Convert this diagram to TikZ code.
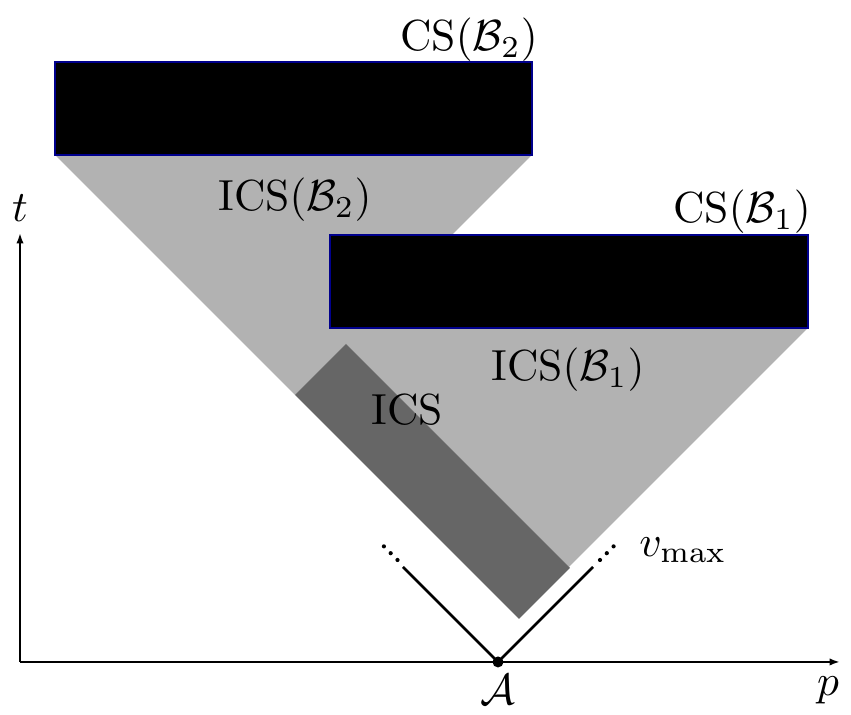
\documentclass[tikz,border=0pt]{standalone}
\usepackage{amsmath,amssymb}
\usetikzlibrary{arrows.meta}
\tikzset{
  axis/.style={line width=0.6pt, -{Latex[length=2.4pt,width=1.7pt]}},
  pastcone/.style={fill=black!30},
  overlap/.style={fill=black!60},
  slab/.style={fill=black, draw=blue!55!black, line width=0.3pt},
  lightline/.style={line width=0.6pt},
}
\begin{document}
\begin{tikzpicture}[x=0.23pt, y=0.23pt]
	\useasboundingbox (0,0) rectangle (851,715);
	% past cones of the two slabs and their overlap
	\fill[pastcone] (55,560) -- (532,560) -- (452,480) -- (346,371) -- (295,320) -- cycle;
	\fill[pastcone] (330,387) -- (808,387) -- (569,148) -- cycle;
	\fill[overlap] (295,320) -- (346,371) -- (570,147) -- (519,96) -- cycle;
	\draw[slab] (55,560) rectangle (532,653);
	\draw[slab] (330,387) rectangle (808,480);
	\node (csB2) at (469,675) {CS$(\mathcal{B}_2)$};
	\node (csB1) at (742,503) {CS$(\mathcal{B}_1)$};
	\node (icsB2) at (295,515) {ICS$(\mathcal{B}_2)$};
	\node (icsB1) at (568,345) {ICS$(\mathcal{B}_1)$};
	\node (ics) at (407,305) {ICS};
	% axes
	\coordinate (O) at (20,53);
	\coordinate (ttip) at (20,482);
	\coordinate (ptip) at (840,53);
	\draw[axis] (O) -- (ttip);
	\draw[axis] (O) -- (ptip);
	\node (tlab) at (20,507) {$t$};
	\node (plab) at (828,25) {$p$};
	% light cone of A
	\coordinate (A) at (498,53);
	\coordinate (cl) at (403,148);
	\coordinate (cr) at (593,148);
	\draw[lightline] (cl) -- (A) -- (cr);
	\foreach \k in {0,1,2} {\fill (397.5-6.8*\k,155+6.8*\k) circle (2.1); \fill (600+6.8*\k,155+6.8*\k) circle (2.1);}
	\fill (A) circle (5.5);
	\node (Alab) at (498,25) {$\mathcal{A}$};
	\node (vmax) at (683,165) {$v_{\max}$};
\end{tikzpicture}
\end{document}
